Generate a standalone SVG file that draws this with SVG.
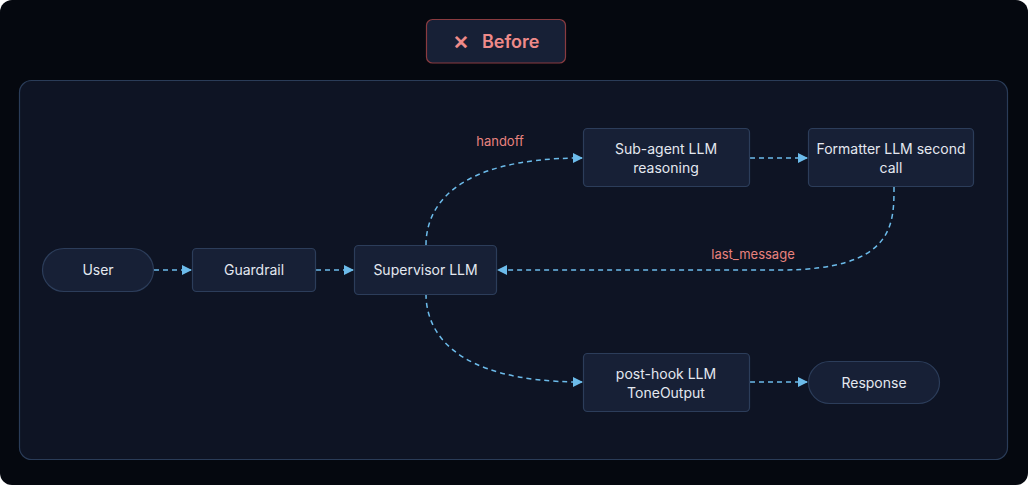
<svg xmlns="http://www.w3.org/2000/svg" width="1028" height="485" viewBox="0 0 1028 485">
<defs>
<style>
.node{fill:#172036;stroke:#2c3d5a;stroke-width:1.2}
.lbl{font-family:Inter,"Noto Sans","Liberation Sans",sans-serif;font-size:14px;fill:#e4e8f0;text-anchor:middle}
.edge{fill:none;stroke:#6cbbea;stroke-width:1.5;stroke-dasharray:5 4;marker-end:url(#ah)}
.elbl{font-family:Inter,"Noto Sans","Liberation Sans",sans-serif;font-size:13px;fill:#e8827e;text-anchor:middle}
.btxt{font-family:Inter,"Noto Sans","Liberation Sans",sans-serif;font-weight:600;fill:#ef8a89}
</style>
<marker id="ah" viewBox="0 0 10 10" refX="9" refY="5" markerWidth="10" markerHeight="10" markerUnits="userSpaceOnUse" orient="auto">
<path d="M0,0 L10,5 L0,10 z" fill="#6cbbea"/>
</marker>
</defs>
<rect x="0" y="0" width="1028" height="485" rx="12" fill="#05080f"/>
<g id="badge">
<rect x="426.5" y="19.5" width="139" height="43.5" rx="6" fill="#172036" stroke="#8a3b40" stroke-width="1.2"/>
<text class="btxt" x="461" y="48.5" font-size="19" text-anchor="middle">✕</text>
<text class="btxt" x="482" y="48" font-size="18">Before</text>
</g>
<rect id="panel" x="19.5" y="80.5" width="988" height="379" rx="12" fill="#0e1424" stroke="#2a3c58" stroke-width="1.2"/>
<g id="connectors">
<path class="edge" d="M154,270 L191,270"/>
<path class="edge" d="M316,270 L353,270"/>
<path class="edge" d="M426,245 C426,210 450,158 582,158"/>
<path class="edge" d="M750,158 L807,158"/>
<path class="edge" d="M894,187 C894,225 894,270 780,270 L498,270"/>
<path class="edge" d="M426,294 C426,329 450,382 582,382"/>
<path class="edge" d="M750,382 L807,382"/>
<text class="elbl" x="500" y="146">handoff</text>
<text class="elbl" x="753" y="259">last_message</text>
</g>
<g id="user">
<rect class="node" x="42.5" y="248.5" width="111" height="43" rx="21.5"/>
<text class="lbl" x="98" y="275">User</text>
</g>
<g id="guardrail">
<rect class="node" x="192.5" y="248.5" width="123" height="43" rx="4"/>
<text class="lbl" x="254" y="275">Guardrail</text>
</g>
<g id="supervisor">
<rect class="node" x="354.5" y="245.5" width="142" height="49" rx="4"/>
<text class="lbl" x="425.5" y="275">Supervisor LLM</text>
</g>
<g id="subagent">
<rect class="node" x="583.5" y="128.5" width="166" height="58" rx="4"/>
<text class="lbl" x="666" y="154">Sub-agent LLM</text>
<text class="lbl" x="666" y="173">reasoning</text>
</g>
<g id="formatter">
<rect class="node" x="808.5" y="128.5" width="165" height="58" rx="4"/>
<text class="lbl" x="891" y="154">Formatter LLM second</text>
<text class="lbl" x="891" y="173">call</text>
</g>
<g id="posthook">
<rect class="node" x="583.5" y="353.5" width="166" height="58" rx="4"/>
<text class="lbl" x="666" y="379">post-hook LLM</text>
<text class="lbl" x="666" y="398">ToneOutput</text>
</g>
<g id="response">
<rect class="node" x="808.5" y="361.5" width="131" height="42" rx="21"/>
<text class="lbl" x="874" y="388">Response</text>
</g>
</svg>
